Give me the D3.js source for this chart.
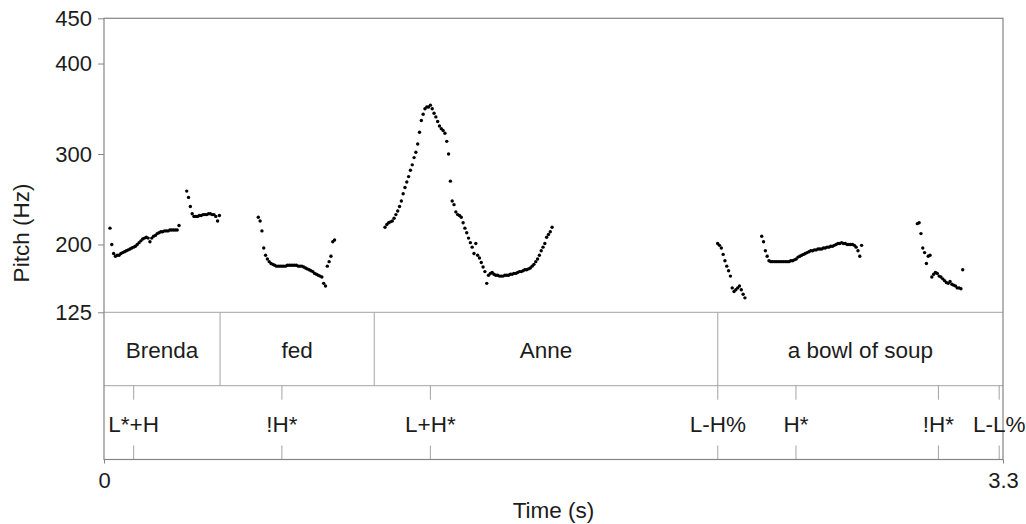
<!DOCTYPE html>
<html>
<head>
<meta charset="utf-8">
<script src="https://cdn.jsdelivr.net/npm/d3@7"></script>
<style>
  html, body { margin: 0; padding: 0; background: #fff; }
  svg { display: block; font-family: "Liberation Sans", Arial, Helvetica, sans-serif; }
  .lbl { fill: #1c1c1c; font-size: 22.5px; }
</style>
</head>
<body>
<svg id="chart" width="1026" height="524"></svg>
<script>
// Annotation tiers
const words = ["Brenda", "fed", "Anne", "a bowl of soup"];
const wordBounds = [0, 0.426, 0.992, 2.253, 3.3];
const tones = ["L*+H", "!H*", "L+H*", "L-H%", "H*", "!H*", "L-L%"];
const toneTimes = [0.109, 0.653, 1.198, 2.253, 2.540, 3.063, 3.286];

// Axis ticks
const pitchTicks = [125, 200, 300, 400, 450];
const timeTicks = [0, 3.3];

// Pitch track: voiced stretches, one frame every 1/150 s from each start time (Hz)
const frameStep = 1 / 150;
const segmentStarts = [0.022, 0.3036, 0.5664, 1.0315, 2.2527, 2.4143, 2.9855];
const brendaHz = [218, 200, 190, 187, 188, 188, 190, 191, 192, 193, 194, 195, 196, 197, 198, 200,
  202, 204, 206, 207, 208, 207, 203, 207, 209, 210, 212, 213, 214, 214, 215, 215, 215, 216, 216,
  216, 216, 216, 221];
const brendaTailHz = [259, 252, 242, 234, 231, 231, 231, 232, 232, 233, 233, 233, 234, 234, 233,
  233, 231, 226, 232];
const fedHz = [230, 226, 215, 196, 188, 184, 181, 179, 178, 177, 176, 176, 176, 176, 176, 176, 177,
  177, 177, 177, 177, 177, 176, 176, 176, 175, 174, 173, 172, 171, 170, 168, 167, 166, 165, 164,
  157, 154, 176, 181, 187, 203, 205];
const anneHz = [219, 222, 224, 225, 226, 229, 233, 237, 242, 248, 256, 263, 269, 275, 282, 288,
  296, 302, 311, 324, 337, 344, 350, 352, 352, 354, 350, 345, 341, 336, 331, 328, 326, 323, 314,
  300, 270, 248, 244, 236, 233, 232, 230, 224, 218, 213, 207, 202, 197, 190, 201, 188, 185, 180,
  175, 170, 157, 166, 168, 169, 167, 166, 166, 165, 165, 165, 166, 166, 166, 167, 167, 168, 168,
  169, 170, 170, 171, 172, 172, 173, 174, 176, 178, 181, 184, 188, 193, 197, 201, 208, 211, 214,
  219];
const boundaryHz = [201, 199, 196, 189, 182, 176, 171, 165, 152, 148, 150, 152, 154, 150, 145, 141];
const bowlHz = [209, 203, 193, 187, 182, 181, 181, 181, 181, 181, 181, 181, 181, 181, 181, 181, 182,
  182, 183, 184, 186, 187, 188, 189, 190, 191, 192, 193, 193, 194, 194, 195, 195, 195, 196, 196,
  197, 197, 198, 198, 199, 200, 201, 201, 202, 201, 201, 200, 200, 200, 200, 199, 197, 193, 187,
  199];
const soupHz = [223, 224, 212, 196, 191, 179, 187, 188, 164, 167, 169, 168, 165, 164, 162, 160, 158,
  157, 159, 156, 155, 154, 152, 152, 151, 172];

const segments = [brendaHz, brendaTailHz, fedHz, anneHz, boundaryHz, bowlHz, soupHz];
const pitchPoints = segments.flatMap((hz, s) =>
  hz.map((f, i) => ({ t: segmentStarts[s] + i * frameStep, f })));

const svg = d3.select("#chart");
const plotLeft = 104, plotRight = 1003, plotTop = 18.3, plotBottom = 312.3;
const tier1Bottom = 385.7, tier2Bottom = 459.5;
const frameColor = "#858585", innerColor = "#a3a3a3";

const x = d3.scaleLinear().domain([0, 3.3]).range([plotLeft, plotRight]);
const y = d3.scaleLinear().domain([125, 450]).range([plotBottom, plotTop]);

// Tier separators
svg.append("g").selectAll("line")
  .data([plotBottom, tier1Bottom])
  .join("line")
  .attr("x1", plotLeft).attr("x2", plotRight)
  .attr("y1", d => d).attr("y2", d => d)
  .attr("stroke", innerColor).attr("stroke-width", 1);

// Word interval boundaries
svg.append("g").selectAll("line")
  .data(wordBounds.slice(1, -1))
  .join("line")
  .attr("x1", d => x(d)).attr("x2", d => x(d))
  .attr("y1", plotBottom).attr("y2", tier1Bottom)
  .attr("stroke", innerColor).attr("stroke-width", 1);

// Word labels
svg.append("g").selectAll("text")
  .data(words)
  .join("text")
  .attr("class", "lbl")
  .attr("text-anchor", "middle")
  .attr("x", (d, i) => (x(wordBounds[i]) + x(wordBounds[i + 1])) / 2)
  .attr("y", 358)
  .text(d => d);

// Tone point ticks (top and bottom of the tier)
svg.append("g").selectAll("line")
  .data(toneTimes)
  .join("line")
  .attr("x1", d => x(d)).attr("x2", d => x(d))
  .attr("y1", tier1Bottom).attr("y2", tier1Bottom + 14)
  .attr("stroke", innerColor);
svg.append("g").selectAll("line")
  .data(toneTimes)
  .join("line")
  .attr("x1", d => x(d)).attr("x2", d => x(d))
  .attr("y1", tier2Bottom - 14).attr("y2", tier2Bottom)
  .attr("stroke", innerColor);

// Frame
svg.append("rect")
  .attr("x", plotLeft).attr("y", plotTop)
  .attr("width", plotRight - plotLeft).attr("height", tier2Bottom - plotTop)
  .attr("fill", "none").attr("stroke", frameColor).attr("stroke-width", 1.2);

// Tone labels
svg.append("g").selectAll("text")
  .data(tones)
  .join("text")
  .attr("class", "lbl")
  .attr("text-anchor", "middle")
  .attr("x", (d, i) => x(toneTimes[i]))
  .attr("y", 432)
  .text(d => d);

// Pitch axis
const yAxis = svg.append("g")
  .attr("transform", `translate(${plotLeft},0)`)
  .call(d3.axisLeft(y).tickValues(pitchTicks).tickSize(6).tickPadding(6).tickFormat(d3.format("d")));
yAxis.select(".domain").remove();
yAxis.selectAll(".tick line").attr("stroke", frameColor);
yAxis.selectAll(".tick text")
  .attr("fill", "#1c1c1c")
  .style("font-size", "22px").style("font-family", "Liberation Sans, Arial, sans-serif");

// Time axis
const xAxis = svg.append("g")
  .attr("transform", `translate(0,${tier2Bottom})`)
  .call(d3.axisBottom(x).tickValues(timeTicks).tickSize(4).tickPadding(9)
    .tickFormat(d => d === 0 ? "0" : d3.format(".1f")(d)));
xAxis.select(".domain").remove();
xAxis.selectAll(".tick line").attr("stroke", frameColor);
xAxis.selectAll(".tick text")
  .attr("fill", "#1c1c1c")
  .style("font-size", "22px").style("font-family", "Liberation Sans, Arial, sans-serif");

// Axis titles
svg.append("text")
  .attr("class", "lbl")
  .attr("text-anchor", "middle")
  .attr("x", (plotLeft + plotRight) / 2)
  .attr("y", 518)
  .text("Time (s)");
svg.append("text")
  .attr("class", "lbl")
  .attr("text-anchor", "middle")
  .attr("transform", "translate(28.5,233) rotate(-90)")
  .text("Pitch (Hz)");

// Pitch points
svg.append("g").selectAll("circle")
  .data(pitchPoints)
  .join("circle")
  .attr("cx", d => x(d.t))
  .attr("cy", d => y(d.f))
  .attr("r", 1.7)
  .attr("fill", "#000");
</script>
</body>
</html>
